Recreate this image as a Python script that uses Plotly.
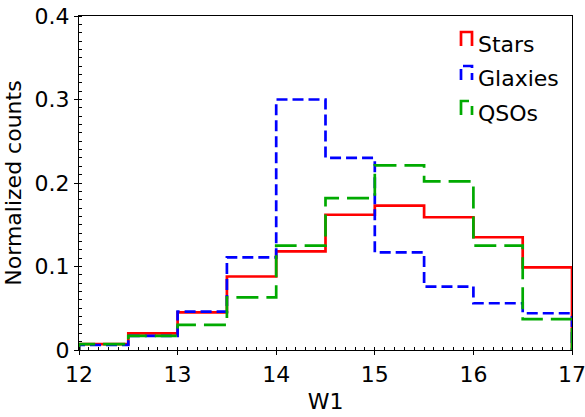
import plotly.graph_objects as go

# W1 magnitude bins (edges) and normalized counts per class
bin_edges = [12.0, 12.5, 13.0, 13.5, 14.0, 14.5, 15.0, 15.5, 16.0, 16.5, 17.0]
stars = [0.007, 0.020, 0.045, 0.088, 0.118, 0.162, 0.173, 0.159, 0.135, 0.099]
galaxies = [0.006, 0.017, 0.046, 0.111, 0.300, 0.230, 0.117, 0.076, 0.056, 0.044]
qsos = [0.007, 0.017, 0.030, 0.063, 0.125, 0.182, 0.221, 0.202, 0.125, 0.037]

x_ticks = [12, 13, 14, 15, 16, 17]
y_ticks = [0, 0.1, 0.2, 0.3, 0.4]
y_tick_text = ["0", "0.1", "0.2", "0.3", "0.4"]

labels = ["Stars", "Glaxies", "QSOs"]
colors = ["#ff0000", "#0000ff", "#00aa00"]
dashes = ["solid", "11px,5px", "22px,8px"]
LW = 2.7
FONT = "DejaVu Sans"
FS = 22


def step_outline(edges, values):
    """Outline of a step histogram, closed down to zero at both ends."""
    xs = [edges[0]] + list(edges[:-1]) + [edges[-1], edges[-1]]
    ys = [0.0] + list(values) + [values[-1], 0.0]
    return xs, ys


fig = go.Figure()
for vals, name, col, dsh in zip([stars, galaxies, qsos], labels, colors, dashes):
    xs, ys = step_outline(bin_edges, vals)
    fig.add_trace(go.Scatter(
        x=xs, y=ys, mode="lines", name=name,
        line=dict(color=col, width=LW, dash=dsh, shape="hv"),
        showlegend=False, hoverinfo="skip",
    ))

# Plot-area geometry (pixels) used to place the legend glyphs
W, H = 585, 417
ML, MR, MT, MB = 79, 13, 16, 67
pw, ph = W - ML - MR, H - MT - MB


def px(xp):
    return (xp - ML) / pw


def py(yp):
    return (H - MB - yp) / ph


# Legend: open-bottom box glyphs with labels
legend_centres = [44, 78, 113]
for yc, name, col, dsh in zip(legend_centres, labels, colors, dashes):
    x0, x1 = px(461), px(472)
    y_top, y_bot = py(yc - 12), py(yc + 2)
    fig.add_shape(
        type="path", xref="paper", yref="paper",
        path=f"M {x0},{y_bot} L {x0},{y_top} L {x1},{y_top} L {x1},{y_bot}",
        line=dict(color=col, width=LW, dash=dsh),
    )
    fig.add_annotation(
        x=px(476), y=py(yc), xref="paper", yref="paper",
        text=name, showarrow=False, xanchor="left", yanchor="middle",
        font=dict(family=FONT, size=FS, color="black"),
    )

axis_common = dict(
    showline=True, linecolor="black", linewidth=1.2, mirror=True,
    showgrid=False, zeroline=False, automargin=False,
    ticks="outside", ticklen=4, tickwidth=1, tickcolor="black",
    tickfont=dict(family=FONT, size=FS, color="black"),
)

fig.update_xaxes(
    range=[12, 17], tickmode="array", tickvals=x_ticks,
    ticklabeloverflow="allow",
    minor=dict(ticks="inside", dtick=0.1, ticklen=3, tickcolor="black", tickwidth=1),
    title=dict(text="W1", font=dict(family=FONT, size=FS, color="black"), standoff=8),
    **axis_common,
)
fig.update_yaxes(
    range=[0, 0.4], tickmode="array", tickvals=y_ticks, ticktext=y_tick_text,
    ticklabeloverflow="allow",
    minor=dict(ticks="inside", dtick=0.01, ticklen=3, tickcolor="black", tickwidth=1),
    title=dict(text="Normalized counts", font=dict(family=FONT, size=FS, color="black"), standoff=6),
    **axis_common,
)

fig.update_layout(
    width=W, height=H,
    margin=dict(l=ML, r=MR, t=MT, b=MB),
    plot_bgcolor="white", paper_bgcolor="white",
    font=dict(family=FONT, color="black"),
)

fig.write_html("out.html")
